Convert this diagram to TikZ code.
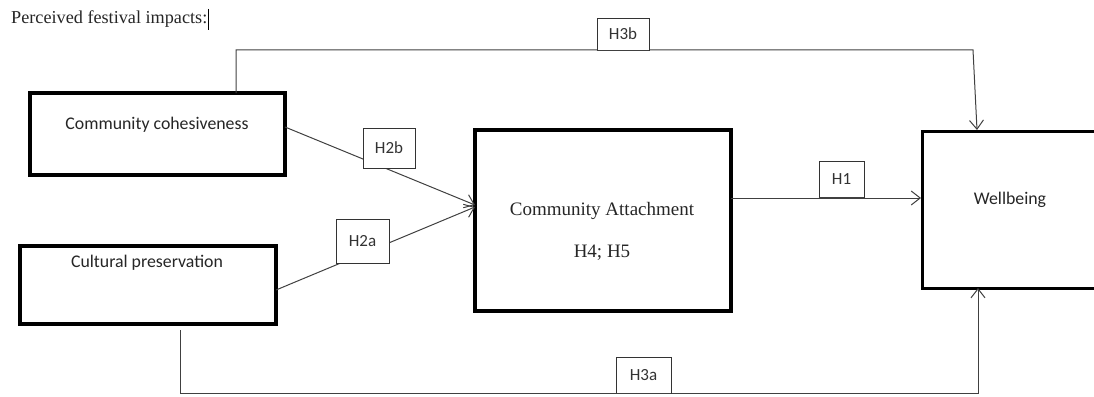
\documentclass[tikz,border=0pt]{standalone}
\usepackage{fontspec}
\setmainfont{Liberation Serif}
\newfontfamily\calib{Carlito}
\usetikzlibrary{arrows.meta}
\tikzset{
  bigbox/.style={draw=black, line width=3.2pt, fill=white, inner sep=0pt},
  hyp/.style={draw=black!80, line width=0.9pt, fill=white, inner sep=0pt, font=\calib\fontsize{17}{19}\selectfont, text=black!80},
  conn/.style={draw=black!75, line width=1pt},
  arr/.style={conn, -{Straight Barb[length=9pt,width=14pt,line width=1pt]}},
  sanslab/.style={font=\calib\fontsize{17.8}{20}\selectfont, text=black!85, inner sep=0pt},
  seriflab/.style={font=\fontsize{19}{22}\selectfont, text=black!85, inner sep=0pt}
}
\begin{document}
\begin{tikzpicture}[x=1pt,y=-1pt]
\useasboundingbox (0,0) rectangle (1094,396);
\clip (0,0) rectangle (1094,396);
% title
\node[anchor=west, font=\fontsize{18.2}{20}\selectfont, text=black!85, inner sep=0pt] (title) at (11,19) {Perceived festival impacts:};
\draw[line width=1.6pt] (title.east) ++(1,-10) coordinate (cur1) -- ++(0,21);
% boxes
\node[bigbox, minimum width=255pt, minimum height=82pt] (coh) at (157.5,134) {};
\node[sanslab] (cohT) at (157,125) {Community cohesiveness};
\node[bigbox, minimum width=256pt, minimum height=78pt] (cul) at (148,285) {};
\node[sanslab] (culT) at (147,263) {Cultural preservation};
\node[bigbox, minimum width=256pt, minimum height=181pt] (ca) at (603,220.5) {};
\node[seriflab] (caT) at (602,211) {Community Attachment};
\node[seriflab] (caH) at (602,253) {H4; H5};
\node[bigbox, minimum width=200pt, minimum height=157pt, anchor=north west] (wb) at (921,130) {};
\node[sanslab] (wbT) at (1010,200) {Wellbeing};
% connector coordinates
\coordinate (cohE) at (285,127);
\coordinate (culE) at (276,290);
\coordinate (caIn) at (475,205);
\coordinate (caIn2) at (475,207);
\coordinate (caE) at (731,198);
\coordinate (wbW) at (921,198);
\coordinate (cohN) at (236,93);
\coordinate (topL) at (236,50);
\coordinate (topR) at (973,50);
\coordinate (wbN) at (977,130);
\coordinate (culS) at (180,330);
\coordinate (botL) at (180,393);
\coordinate (botR) at (978,393);
\coordinate (wbS) at (978,288);
% connectors
\draw[arr] (cohE) -- (caIn);
\draw[arr] (culE) -- (caIn2);
\draw[arr] (caE) -- (wbW);
\draw[arr] (cohN) -- (topL) -- (topR) -- (wbN);
\draw[arr] (culS) -- (botL) -- (botR) -- (wbS);
% hypothesis labels
\node[hyp, minimum width=52pt, minimum height=40pt] (h2b) at (389,148) {H2b};
\node[hyp, minimum width=53pt, minimum height=44pt] (h2a) at (362.5,241) {H2a};
\node[hyp, minimum width=45pt, minimum height=36pt] (h1) at (841.5,179) {H1};
\node[hyp, minimum width=52pt, minimum height=32pt] (h3b) at (623,34) {H3b};
\node[hyp, minimum width=55pt, minimum height=36pt] (h3a) at (643.5,375) {H3a};
\draw[conn] (h3b.south west) -- (h3b.south east);
\draw[conn] (h3a.south west) -- (h3a.south east);
\draw[conn] (h1.south west) -- (h1.south east);
\end{tikzpicture}
\end{document}
